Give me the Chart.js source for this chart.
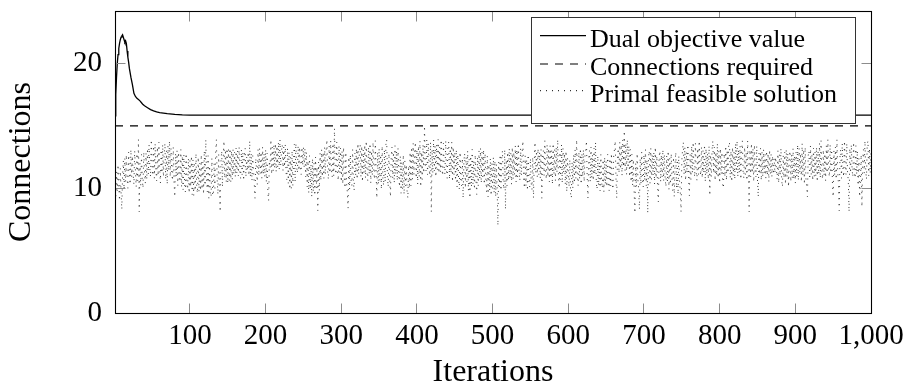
<!DOCTYPE html>
<html><head><meta charset="utf-8">
<script src="https://cdn.jsdelivr.net/npm/chart.js@4.4.0/dist/chart.umd.min.js"></script>
<style>html,body{margin:0;padding:0;background:#fff}#wrap{width:912px;height:391px;position:relative}</style>
</head><body><div id="wrap"><canvas id="c"></canvas></div>
<script>
const xTicks = [100,200,300,400,500,600,700,800,900,1000];
const yTicks = [0,10,20];
const xTitle = 'Iterations';
const yTitle = 'Connections';
const seriesLabels = ['Dual objective value','Connections required','Primal feasible solution'];

const dualIter = [1,2,3,4,5,6,7,8,9,10,11,12,13,14,15,16,17,18,19,20,22,24,26,28,30,32,34,36,38,40,44,48,52,56,60,70,80,90,100,150,200,300,500,1000];
const dualVal  = [15.8,17.5,18.9,20.0,20.7,21.2,21.6,21.9,22.1,22.2,22.3,22.1,21.9,21.7,21.8,21.6,21.0,20.5,20.1,19.6,18.9,18.3,17.6,17.35,17.2,17.1,17.0,16.85,16.7,16.6,16.45,16.3,16.2,16.12,16.06,15.98,15.92,15.88,15.86,15.85,15.85,15.85,15.85,15.85];

const requiredIter = [1,1000];
const requiredVal  = [15,15];

const primalVal = [
10.0,9.2,11.3,9.8,11.9,10.1,9.0,11.6,9.7,8.3,11.0,12.2,9.9,12.4,10.5,12.7,10.8,10.0,12.9,11.2,10.3,13.1,10.9,12.6,11.1,
10.3,13.0,11.4,10.1,12.8,10.6,13.9,8.1,12.0,10.2,12.7,10.8,10.0,12.9,11.3,10.4,12.8,10.7,13.2,11.1,13.5,11.6,10.9,13.9,11.8,
11.0,13.4,10.8,13.6,11.5,10.6,13.3,11.0,13.7,11.6,10.4,13.1,11.2,13.5,10.9,12.8,13.6,10.7,13.0,10.3,13.4,11.4,13.8,10.9,13.2,
11.3,10.6,13.3,10.5,9.3,12.8,10.9,13.0,10.2,12.9,11.0,10.5,13.1,10.1,12.6,9.9,12.7,10.4,9.7,12.8,10.3,9.9,12.4,9.6,12.2,
10.1,12.6,9.5,12.3,9.4,11.9,9.8,12.8,10.0,9.6,12.5,9.7,12.0,9.8,12.7,9.9,12.1,9.5,13.0,10.2,13.9,10.8,9.7,12.6,9.2,
11.8,9.6,9.3,12.4,9.5,9.4,12.0,10.0,12.9,13.9,10.7,9.5,12.7,9.9,8.1,12.1,13.0,10.1,12.5,13.8,10.8,13.1,10.5,13.2,10.4,
13.1,10.6,13.2,10.5,13.0,10.7,13.1,11.1,12.9,10.9,13.2,11.2,13.0,11.0,13.3,11.3,10.8,13.1,11.1,12.9,10.6,12.7,13.2,10.9,12.5,
11.4,12.9,11.0,13.8,10.9,12.8,10.6,12.6,11.5,10.4,9.2,12.4,11.6,10.3,13.1,11.0,13.2,11.2,12.9,10.8,13.3,11.1,12.8,10.9,13.1,
10.5,12.8,9.7,9.0,12.2,11.6,13.9,11.1,13.3,11.4,13.5,11.6,13.6,11.3,13.4,11.7,13.7,11.5,13.9,11.8,13.0,13.5,11.4,13.3,11.7,
13.5,11.3,10.7,13.2,10.4,12.9,9.9,12.5,10.0,13.0,10.2,12.3,13.5,10.5,13.6,11.7,11.2,13.4,11.4,13.3,11.6,11.1,13.3,11.8,13.3,
11.7,13.2,10.9,12.9,10.1,12.2,9.6,12.6,9.9,11.9,9.3,12.4,9.7,12.0,9.4,12.5,10.0,11.7,8.2,12.1,9.8,12.8,10.6,13.1,10.9,
12.9,10.8,13.3,11.1,13.0,13.9,11.3,10.7,13.4,11.2,13.8,11.5,10.9,13.6,11.0,14.8,11.7,11.1,13.7,11.4,10.6,13.4,11.2,13.2,10.5,
13.0,10.3,13.3,10.8,10.0,12.9,10.4,9.7,8.4,12.5,9.9,12.7,10.6,10.2,13.1,10.5,9.8,12.8,11.0,13.2,10.7,13.6,11.1,13.0,13.5,
10.9,13.4,10.5,13.1,11.2,13.5,10.8,13.8,11.3,10.6,13.3,11.1,13.6,10.4,13.0,11.0,13.7,11.3,10.7,13.8,11.2,9.2,12.9,10.3,13.2,
10.6,12.7,9.9,13.4,10.8,10.2,13.1,10.5,13.5,13.9,10.9,10.1,12.8,10.7,9.3,12.6,13.3,10.8,12.9,10.4,13.4,11.1,13.0,10.6,13.2,
11.0,10.1,12.6,9.6,12.1,9.9,12.7,9.5,12.2,10.2,11.9,9.7,9.2,11.8,10.0,12.9,10.2,13.3,10.7,13.6,11.1,13.0,13.7,10.8,13.1,
10.3,13.4,10.9,13.8,10.1,12.9,10.7,13.5,11.2,15.0,11.9,11.4,13.9,11.1,13.6,11.6,11.0,13.7,8.1,13.1,11.2,13.9,11.4,13.4,10.9,
13.5,11.5,13.9,11.2,13.3,11.3,13.9,11.6,11.0,13.6,11.7,11.1,13.8,11.4,10.8,13.4,13.7,10.7,13.2,11.2,13.7,10.5,13.3,11.1,12.9,
10.6,13.1,10.1,12.7,10.8,9.9,12.9,10.4,10.2,12.4,9.2,12.1,12.8,10.0,12.5,10.5,13.0,9.8,12.3,9.2,12.6,10.1,13.1,10.3,12.2,
9.9,12.7,10.6,9.5,12.5,10.2,13.0,10.7,13.2,10.4,12.9,10.9,13.1,10.3,12.8,10.8,9.7,12.6,9.3,11.9,9.8,12.4,9.4,12.0,10.0,
12.5,9.6,12.2,9.3,11.9,9.9,7.0,12.1,10.1,12.7,9.8,12.4,13.0,10.4,9.9,13.1,8.3,12.3,10.2,12.9,10.6,13.2,10.8,12.8,10.3,
13.3,10.7,12.9,11.1,13.4,10.5,13.1,10.9,13.6,11.3,10.6,13.2,11.0,12.8,13.8,10.8,10.0,12.6,10.2,12.3,9.8,12.7,10.5,10.1,12.4,
10.4,9.9,12.5,9.2,12.1,13.7,11.2,13.0,10.9,13.2,11.1,12.9,10.8,13.1,9.2,12.6,13.0,11.0,13.8,11.3,10.7,13.5,10.9,13.2,10.5,
13.4,10.8,13.0,10.3,13.6,11.1,13.1,10.6,13.3,11.3,13.9,11.0,10.0,12.9,10.7,13.5,10.4,13.2,11.2,12.8,10.3,13.0,9.7,12.4,11.3,
10.1,12.3,9.6,9.2,12.1,10.0,12.7,10.4,13.1,10.8,13.9,11.1,10.2,12.9,10.7,13.2,10.3,12.8,10.9,13.1,10.5,12.6,13.0,13.8,10.8,
9.2,12.4,13.0,10.5,13.3,10.8,12.7,10.6,13.2,11.1,13.7,10.4,9.9,12.6,10.2,12.1,9.8,12.7,10.5,10.0,12.3,9.7,12.5,10.3,12.2,
10.1,12.7,10.6,9.8,12.4,10.2,12.8,10.5,9.9,12.6,13.1,13.8,10.8,9.2,12.5,13.2,11.2,13.7,11.5,13.5,11.0,13.9,11.7,14.6,11.4,
13.6,11.1,13.9,11.6,13.4,10.9,13.1,10.5,12.7,10.2,12.3,9.7,8.0,12.0,10.1,12.8,10.7,9.9,8.3,12.4,10.3,12.9,10.8,10.1,12.7,
10.6,13.1,10.2,12.3,8.0,12.5,13.0,10.4,13.2,10.7,12.7,11.0,12.9,10.3,13.3,10.8,12.6,9.9,8.9,12.5,13.0,10.5,12.7,10.9,13.1,
10.6,12.7,10.8,10.1,12.6,10.5,13.0,9.9,12.4,10.3,12.8,10.7,9.8,12.5,9.3,11.8,12.9,10.0,12.3,9.5,12.6,10.6,9.7,8.1,12.2,
13.1,13.7,11.1,13.3,10.6,12.9,11.2,13.5,10.8,9.4,12.7,10.7,13.4,11.2,13.7,11.6,10.9,13.6,11.3,10.6,13.2,11.1,13.8,11.5,11.0,
13.3,10.8,13.0,11.2,13.5,10.5,13.2,11.1,12.8,10.7,13.4,9.4,12.7,10.9,13.1,13.8,11.2,13.3,10.6,12.9,11.0,13.6,10.8,13.0,10.4,
13.2,11.1,12.9,10.3,10.0,12.8,10.9,13.4,10.6,13.1,11.2,13.5,13.7,10.8,13.0,10.5,13.3,11.0,12.9,10.7,13.6,11.3,13.8,10.9,13.1,
11.2,13.4,10.7,13.0,13.8,11.3,10.8,13.3,11.1,12.9,10.6,13.8,11.0,8.1,13.1,10.9,13.6,11.2,13.2,10.5,13.5,11.3,10.9,13.4,10.7,
9.3,12.8,11.1,13.2,10.6,12.9,10.9,13.1,11.2,12.7,10.8,13.0,11.0,12.8,10.5,13.1,11.1,12.7,10.9,12.6,11.1,12.4,11.2,12.5,11.5,
10.7,13.0,10.4,12.7,11.0,13.2,10.6,10.1,12.6,10.8,12.9,10.3,13.1,10.9,12.8,10.1,12.5,13.0,10.5,12.7,10.8,13.2,10.7,12.6,10.4,
12.9,10.9,13.5,10.6,13.2,11.2,12.8,10.5,13.6,11.0,13.1,10.3,13.3,10.8,10.1,9.3,12.6,13.0,10.7,13.4,11.1,12.7,10.6,13.2,10.9,
12.9,11.0,13.3,10.5,13.0,11.1,13.6,10.8,13.8,11.3,10.7,13.1,11.0,12.8,10.6,13.4,11.2,13.9,11.5,10.9,13.5,11.2,13.1,10.5,9.3,
13.0,11.0,13.3,10.7,13.9,11.4,10.3,8.2,12.5,13.1,10.8,13.6,11.5,10.9,13.8,11.7,11.1,13.6,11.3,10.6,8.1,13.2,11.2,13.5,11.5,
10.9,13.7,11.4,10.8,13.4,11.1,13.0,10.2,12.4,9.3,10.5,12.7,8.5,12.3,13.1,11.2,13.8,11.5,10.7,13.5,13.8,11.0,13.2,11.2,13.0
];

const FONT = "'Liberation Serif', 'Times New Roman', serif";
const toPts = (xs, ys) => xs.map((x, i) => ({x: x, y: ys[i]}));
const primalPts = primalVal.map((v, i) => ({x: i + 1, y: v}));

const legendStyles = [
  {dash: []},
  {dash: [8, 7]},
  {dash: [1, 5]}
];

const frameTicks = {
  id: 'frameTicks',
  afterDatasetsDraw(chart) {
    const {ctx, chartArea: a, scales: {x, y}} = chart;
    const L = Math.floor(a.left) + 0.5, R = Math.floor(a.right) + 0.5;
    const T = Math.floor(a.top) + 0.5, B = Math.floor(a.bottom) + 0.5;
    ctx.save();
    ctx.strokeStyle = '#8c8c8c';
    ctx.lineWidth = 1;
    ctx.beginPath();
    xTicks.forEach(v => {
      const px = Math.floor(x.getPixelForValue(v)) + 0.5;
      if (px > L + 1 && px < R - 1) {
        ctx.moveTo(px, B); ctx.lineTo(px, B - 10);
        ctx.moveTo(px, T); ctx.lineTo(px, T + 10);
      }
    });
    yTicks.forEach(v => {
      const py = Math.floor(y.getPixelForValue(v)) + 0.5;
      if (py > T + 1 && py < B - 1) {
        ctx.moveTo(L, py); ctx.lineTo(L + 10, py);
        ctx.moveTo(R, py); ctx.lineTo(R - 10, py);
      }
    });
    ctx.stroke();
    ctx.strokeStyle = '#000';
    ctx.lineWidth = 1.1;
    ctx.strokeRect(L, T, R - L, B - T);
    ctx.restore();
  }
};

const boxLegend = {
  id: 'boxLegend',
  afterDatasetsDraw(chart) {
    const ctx = chart.ctx;
    const L = 531.5, T = 17.5, W = 324, H = 106;
    ctx.save();
    ctx.fillStyle = '#fff';
    ctx.fillRect(L, T, W, H);
    ctx.strokeStyle = '#333';
    ctx.lineWidth = 1;
    ctx.strokeRect(L, T, W, H);
    const baselines = [46.7, 75, 101.7];
    ctx.font = "26px " + FONT;
    ctx.textBaseline = 'alphabetic';
    ctx.textAlign = 'left';
    chart.data.datasets.forEach((ds, i) => {
      const yy = baselines[i] - 11;
      ctx.beginPath();
      ctx.setLineDash(legendStyles[i].dash);
      ctx.strokeStyle = '#000';
      ctx.lineWidth = ds.borderWidth;
      ctx.moveTo(540, yy); ctx.lineTo(586, yy);
      ctx.stroke();
      ctx.setLineDash([]);
      ctx.fillStyle = '#000';
      ctx.fillText(ds.label, 590, baselines[i]);
    });
    ctx.restore();
  }
};

new Chart(document.getElementById('c'), {
  type: 'line',
  data: {
    datasets: [
      {label: seriesLabels[0], data: toPts(dualIter, dualVal), borderColor: '#000', borderWidth: 1.3, pointRadius: 0, tension: 0},
      {label: seriesLabels[1], data: toPts(requiredIter, requiredVal), borderColor: '#000', borderWidth: 1.2, borderDash: legendStyles[1].dash, pointRadius: 0},
      {label: seriesLabels[2], data: primalPts, borderColor: '#333', borderWidth: 1, borderDash: legendStyles[2].dash, pointRadius: 0, tension: 0}
    ]
  },
  options: {
    responsive: true,
    maintainAspectRatio: false,
    animation: false,
    events: [],
    layout: {padding: {top: 11, right: 41, left: 0, bottom: 0}},
    plugins: {legend: {display: false}, tooltip: {enabled: false}},
    scales: {
      x: {
        type: 'linear', min: 1, max: 1000,
        grid: {display: false, drawTicks: false},
        border: {display: false},
        afterBuildTicks: s => { s.ticks = xTicks.map(v => ({value: v})); },
        afterFit: s => { s.height = 78; s.paddingLeft = 0; s.paddingRight = 0; },
        ticks: {
          autoSkip: false, maxRotation: 0, padding: 6,
          color: '#000', font: {family: FONT, size: 29},
          callback: v => v.toLocaleString('en-US')
        },
        title: {display: true, text: xTitle, color: '#000', font: {family: FONT, size: 32, lineHeight: 1}, padding: {top: 0, bottom: 2}}
      },
      y: {
        type: 'linear', min: 0, max: 24.2,
        grid: {display: false, drawTicks: false},
        border: {display: false},
        afterBuildTicks: s => { s.ticks = yTicks.map(v => ({value: v})); },
        afterFit: s => { s.width = 115; s.paddingTop = 0; s.paddingBottom = 0; },
        ticks: {padding: 13, color: '#000', font: {family: FONT, size: 29}},
        title: {display: true, text: yTitle, color: '#000', font: {family: FONT, size: 32, lineHeight: 1}, padding: {top: 6, bottom: 0}}
      }
    }
  },
  plugins: [frameTicks, boxLegend]
});
</script>
</body></html>
